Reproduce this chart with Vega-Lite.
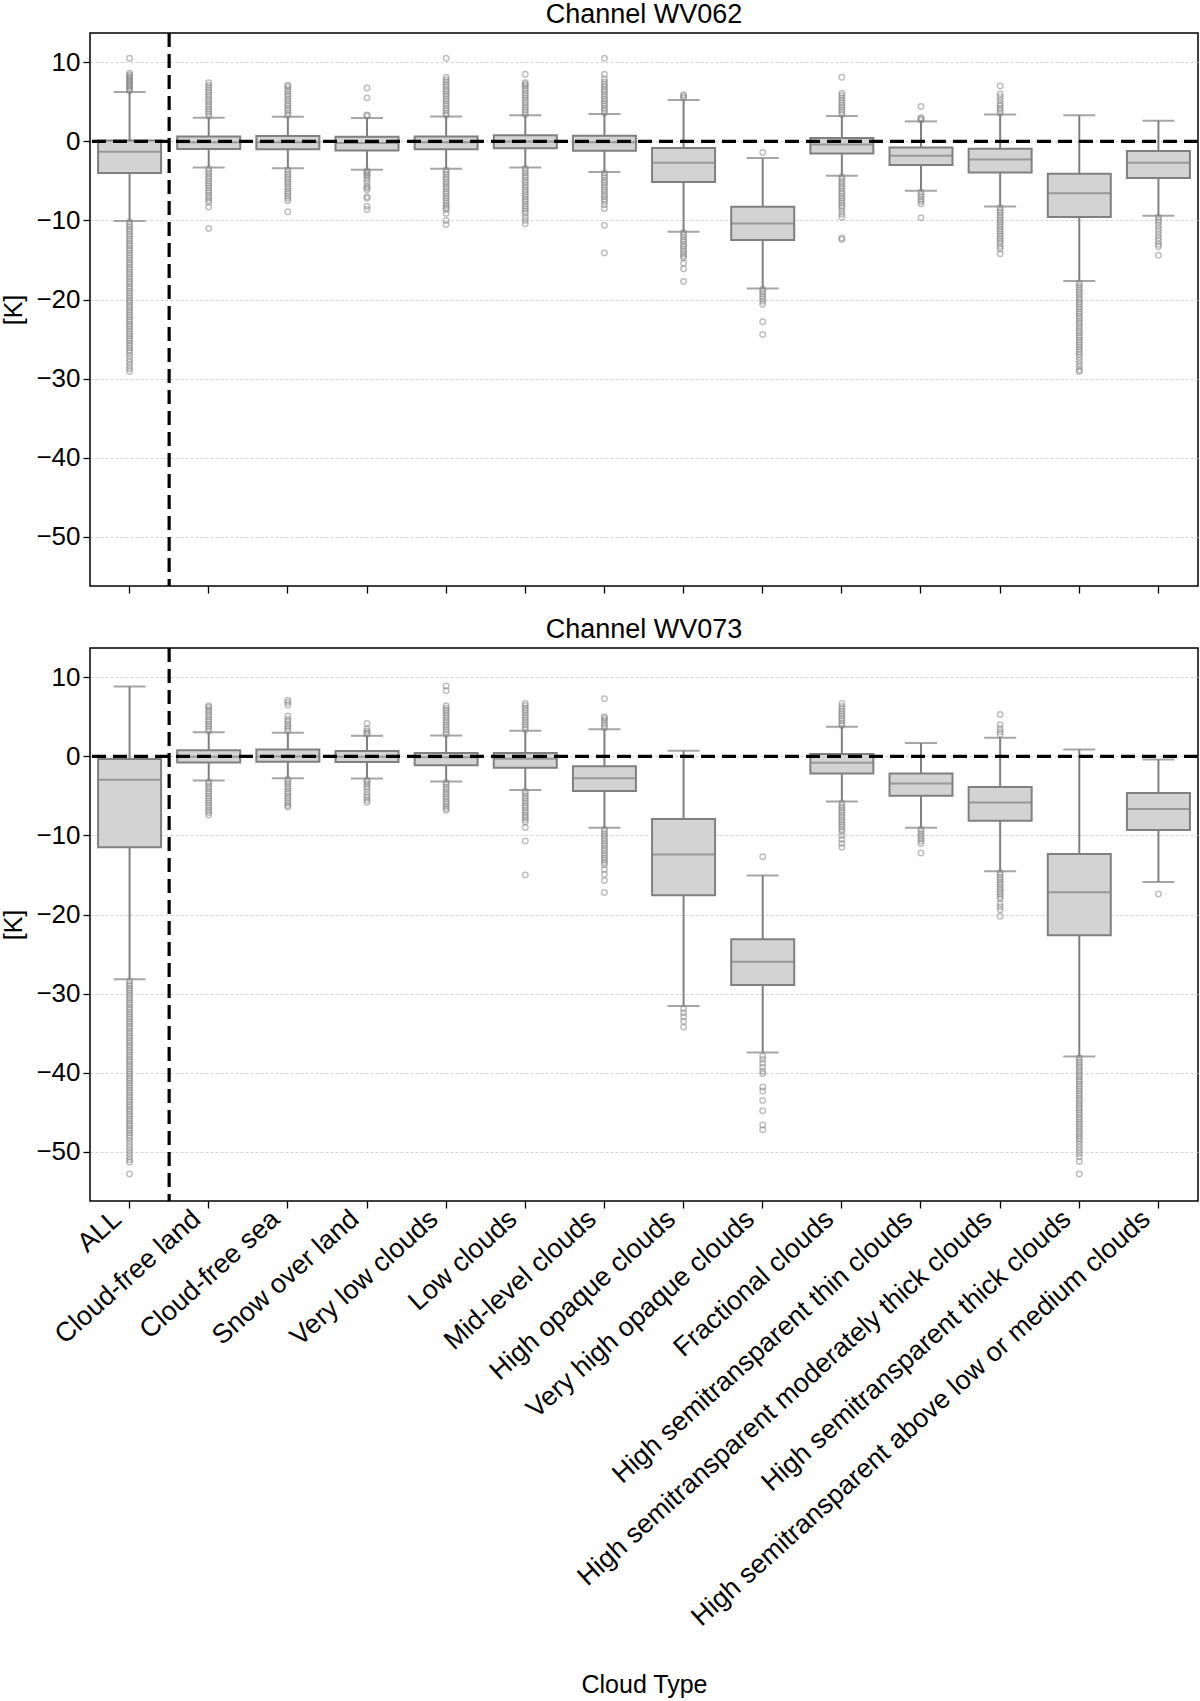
{
  "$schema": "https://vega.github.io/schema/vega-lite/v6.json",
  "background": "white",
  "padding": {"left": 1, "top": 0, "right": 2, "bottom": 0},
  "config": {
    "font": "Liberation Sans",
    "view": {"stroke": "black", "strokeWidth": 1.5},
    "axis": {
      "labelFont": "Liberation Sans", "titleFont": "Liberation Sans",
      "labelFontSize": 26, "titleFontSize": 25, "titleFontWeight": "normal",
      "labelColor": "black", "titleColor": "black",
      "tickColor": "black", "tickSize": 7, "tickWidth": 1.3,
      "domain": false, "labelPadding": 3
    },
    "title": {"font": "Liberation Sans", "fontSize": 27, "fontWeight": "normal", "color": "black", "offset": 2}
  },
  "datasets": {
    "boxes": [
      {"panel": "WV062", "type": "ALL", "lo": -10.07, "q1": -4.0, "med": -1.3, "q3": 0.1, "hi": 6.24},
      {"panel": "WV062", "type": "Cloud-free land", "lo": -3.3, "q1": -0.97, "med": -0.1, "q3": 0.63, "hi": 3.0},
      {"panel": "WV062", "type": "Cloud-free sea", "lo": -3.4, "q1": -1.0, "med": -0.1, "q3": 0.67, "hi": 3.1},
      {"panel": "WV062", "type": "Snow over land", "lo": -3.58, "q1": -1.14, "med": -0.2, "q3": 0.59, "hi": 2.95},
      {"panel": "WV062", "type": "Very low clouds", "lo": -3.46, "q1": -1.0, "med": -0.1, "q3": 0.63, "hi": 3.16},
      {"panel": "WV062", "type": "Low clouds", "lo": -3.29, "q1": -0.88, "med": 0.0, "q3": 0.76, "hi": 3.29},
      {"panel": "WV062", "type": "Mid-level clouds", "lo": -3.88, "q1": -1.18, "med": -0.1, "q3": 0.72, "hi": 3.46},
      {"panel": "WV062", "type": "High opaque clouds", "lo": -11.42, "q1": -5.14, "med": -2.7, "q3": -0.84, "hi": 5.23},
      {"panel": "WV062", "type": "Very high opaque clouds", "lo": -18.58, "q1": -12.47, "med": -10.37, "q3": -8.26, "hi": -2.1},
      {"panel": "WV062", "type": "Fractional clouds", "lo": -4.34, "q1": -1.52, "med": -0.4, "q3": 0.42, "hi": 3.2},
      {"panel": "WV062", "type": "High semitransparent thin clouds", "lo": -6.24, "q1": -3.0, "med": -1.81, "q3": -0.76, "hi": 2.53},
      {"panel": "WV062", "type": "High semitransparent moderately thick clouds", "lo": -8.22, "q1": -3.92, "med": -2.28, "q3": -0.93, "hi": 3.41},
      {"panel": "WV062", "type": "High semitransparent thick clouds", "lo": -17.66, "q1": -9.57, "med": -6.57, "q3": -4.09, "hi": 3.29},
      {"panel": "WV062", "type": "High semitransparent above low or medium clouds", "lo": -9.4, "q1": -4.64, "med": -2.7, "q3": -1.22, "hi": 2.61},
      {"panel": "WV073", "type": "ALL", "lo": -28.17, "q1": -11.48, "med": -2.94, "q3": -0.34, "hi": 8.83},
      {"panel": "WV073", "type": "Cloud-free land", "lo": -3.04, "q1": -0.77, "med": -0.05, "q3": 0.77, "hi": 3.04},
      {"panel": "WV073", "type": "Cloud-free sea", "lo": -2.75, "q1": -0.68, "med": 0.0, "q3": 0.87, "hi": 2.99},
      {"panel": "WV073", "type": "Snow over land", "lo": -2.8, "q1": -0.72, "med": -0.05, "q3": 0.68, "hi": 2.6},
      {"panel": "WV073", "type": "Very low clouds", "lo": -3.18, "q1": -1.11, "med": -0.1, "q3": 0.43, "hi": 2.65},
      {"panel": "WV073", "type": "Low clouds", "lo": -4.25, "q1": -1.45, "med": -0.29, "q3": 0.43, "hi": 3.23},
      {"panel": "WV073", "type": "Mid-level clouds", "lo": -9.02, "q1": -4.39, "med": -2.75, "q3": -1.25, "hi": 3.42},
      {"panel": "WV073", "type": "High opaque clouds", "lo": -31.55, "q1": -17.56, "med": -12.4, "q3": -7.91, "hi": 0.72},
      {"panel": "WV073", "type": "Very high opaque clouds", "lo": -37.43, "q1": -28.9, "med": -25.95, "q3": -23.1, "hi": -15.05},
      {"panel": "WV073", "type": "Fractional clouds", "lo": -5.69, "q1": -2.17, "med": -0.82, "q3": 0.29, "hi": 3.76},
      {"panel": "WV073", "type": "High semitransparent thin clouds", "lo": -9.02, "q1": -4.97, "med": -3.43, "q3": -2.17, "hi": 1.69},
      {"panel": "WV073", "type": "High semitransparent moderately thick clouds", "lo": -14.52, "q1": -8.15, "med": -5.84, "q3": -3.86, "hi": 2.36},
      {"panel": "WV073", "type": "High semitransparent thick clouds", "lo": -37.92, "q1": -22.62, "med": -17.17, "q3": -12.35, "hi": 0.87},
      {"panel": "WV073", "type": "High semitransparent above low or medium clouds", "lo": -15.87, "q1": -9.31, "med": -6.66, "q3": -4.63, "hi": -0.39}
    ],
    "fliers": [
      {"panel": "WV062", "type": "ALL", "value": 6.4},
      {"panel": "WV062", "type": "ALL", "value": 6.6},
      {"panel": "WV062", "type": "ALL", "value": 6.8},
      {"panel": "WV062", "type": "ALL", "value": 7.0},
      {"panel": "WV062", "type": "ALL", "value": 7.2},
      {"panel": "WV062", "type": "ALL", "value": 7.4},
      {"panel": "WV062", "type": "ALL", "value": 7.6},
      {"panel": "WV062", "type": "ALL", "value": 7.8},
      {"panel": "WV062", "type": "ALL", "value": 8.0},
      {"panel": "WV062", "type": "ALL", "value": 8.2},
      {"panel": "WV062", "type": "ALL", "value": 8.4},
      {"panel": "WV062", "type": "ALL", "value": 8.6},
      {"panel": "WV062", "type": "ALL", "value": 10.5},
      {"panel": "WV062", "type": "ALL", "value": -10.2},
      {"panel": "WV062", "type": "ALL", "value": -10.5},
      {"panel": "WV062", "type": "ALL", "value": -10.8},
      {"panel": "WV062", "type": "ALL", "value": -11.1},
      {"panel": "WV062", "type": "ALL", "value": -11.4},
      {"panel": "WV062", "type": "ALL", "value": -11.7},
      {"panel": "WV062", "type": "ALL", "value": -12.0},
      {"panel": "WV062", "type": "ALL", "value": -12.3},
      {"panel": "WV062", "type": "ALL", "value": -12.6},
      {"panel": "WV062", "type": "ALL", "value": -12.9},
      {"panel": "WV062", "type": "ALL", "value": -13.2},
      {"panel": "WV062", "type": "ALL", "value": -13.5},
      {"panel": "WV062", "type": "ALL", "value": -13.8},
      {"panel": "WV062", "type": "ALL", "value": -14.1},
      {"panel": "WV062", "type": "ALL", "value": -14.4},
      {"panel": "WV062", "type": "ALL", "value": -14.7},
      {"panel": "WV062", "type": "ALL", "value": -15.0},
      {"panel": "WV062", "type": "ALL", "value": -15.3},
      {"panel": "WV062", "type": "ALL", "value": -15.6},
      {"panel": "WV062", "type": "ALL", "value": -15.9},
      {"panel": "WV062", "type": "ALL", "value": -16.2},
      {"panel": "WV062", "type": "ALL", "value": -16.5},
      {"panel": "WV062", "type": "ALL", "value": -16.8},
      {"panel": "WV062", "type": "ALL", "value": -17.1},
      {"panel": "WV062", "type": "ALL", "value": -17.4},
      {"panel": "WV062", "type": "ALL", "value": -17.7},
      {"panel": "WV062", "type": "ALL", "value": -18.0},
      {"panel": "WV062", "type": "ALL", "value": -18.3},
      {"panel": "WV062", "type": "ALL", "value": -18.6},
      {"panel": "WV062", "type": "ALL", "value": -18.9},
      {"panel": "WV062", "type": "ALL", "value": -19.2},
      {"panel": "WV062", "type": "ALL", "value": -19.5},
      {"panel": "WV062", "type": "ALL", "value": -19.8},
      {"panel": "WV062", "type": "ALL", "value": -20.1},
      {"panel": "WV062", "type": "ALL", "value": -20.4},
      {"panel": "WV062", "type": "ALL", "value": -20.7},
      {"panel": "WV062", "type": "ALL", "value": -21.0},
      {"panel": "WV062", "type": "ALL", "value": -21.3},
      {"panel": "WV062", "type": "ALL", "value": -21.6},
      {"panel": "WV062", "type": "ALL", "value": -21.9},
      {"panel": "WV062", "type": "ALL", "value": -22.2},
      {"panel": "WV062", "type": "ALL", "value": -22.5},
      {"panel": "WV062", "type": "ALL", "value": -22.8},
      {"panel": "WV062", "type": "ALL", "value": -23.1},
      {"panel": "WV062", "type": "ALL", "value": -23.4},
      {"panel": "WV062", "type": "ALL", "value": -23.7},
      {"panel": "WV062", "type": "ALL", "value": -24.0},
      {"panel": "WV062", "type": "ALL", "value": -24.3},
      {"panel": "WV062", "type": "ALL", "value": -24.6},
      {"panel": "WV062", "type": "ALL", "value": -24.9},
      {"panel": "WV062", "type": "ALL", "value": -25.2},
      {"panel": "WV062", "type": "ALL", "value": -25.5},
      {"panel": "WV062", "type": "ALL", "value": -25.8},
      {"panel": "WV062", "type": "ALL", "value": -26.1},
      {"panel": "WV062", "type": "ALL", "value": -26.4},
      {"panel": "WV062", "type": "ALL", "value": -26.7},
      {"panel": "WV062", "type": "ALL", "value": -27.1},
      {"panel": "WV062", "type": "ALL", "value": -27.5},
      {"panel": "WV062", "type": "ALL", "value": -27.9},
      {"panel": "WV062", "type": "ALL", "value": -28.3},
      {"panel": "WV062", "type": "ALL", "value": -28.7},
      {"panel": "WV062", "type": "ALL", "value": -29.1},
      {"panel": "WV062", "type": "Cloud-free land", "value": 3.2},
      {"panel": "WV062", "type": "Cloud-free land", "value": 3.5},
      {"panel": "WV062", "type": "Cloud-free land", "value": 3.8},
      {"panel": "WV062", "type": "Cloud-free land", "value": 4.1},
      {"panel": "WV062", "type": "Cloud-free land", "value": 4.4},
      {"panel": "WV062", "type": "Cloud-free land", "value": 4.7},
      {"panel": "WV062", "type": "Cloud-free land", "value": 5.0},
      {"panel": "WV062", "type": "Cloud-free land", "value": 5.3},
      {"panel": "WV062", "type": "Cloud-free land", "value": 5.6},
      {"panel": "WV062", "type": "Cloud-free land", "value": 5.9},
      {"panel": "WV062", "type": "Cloud-free land", "value": 6.2},
      {"panel": "WV062", "type": "Cloud-free land", "value": 6.5},
      {"panel": "WV062", "type": "Cloud-free land", "value": 6.8},
      {"panel": "WV062", "type": "Cloud-free land", "value": 7.1},
      {"panel": "WV062", "type": "Cloud-free land", "value": 7.4},
      {"panel": "WV062", "type": "Cloud-free land", "value": -3.5},
      {"panel": "WV062", "type": "Cloud-free land", "value": -3.8},
      {"panel": "WV062", "type": "Cloud-free land", "value": -4.1},
      {"panel": "WV062", "type": "Cloud-free land", "value": -4.4},
      {"panel": "WV062", "type": "Cloud-free land", "value": -4.7},
      {"panel": "WV062", "type": "Cloud-free land", "value": -5.0},
      {"panel": "WV062", "type": "Cloud-free land", "value": -5.3},
      {"panel": "WV062", "type": "Cloud-free land", "value": -5.6},
      {"panel": "WV062", "type": "Cloud-free land", "value": -5.9},
      {"panel": "WV062", "type": "Cloud-free land", "value": -6.2},
      {"panel": "WV062", "type": "Cloud-free land", "value": -6.5},
      {"panel": "WV062", "type": "Cloud-free land", "value": -6.8},
      {"panel": "WV062", "type": "Cloud-free land", "value": -7.1},
      {"panel": "WV062", "type": "Cloud-free land", "value": -7.4},
      {"panel": "WV062", "type": "Cloud-free land", "value": -7.7},
      {"panel": "WV062", "type": "Cloud-free land", "value": -8.3},
      {"panel": "WV062", "type": "Cloud-free land", "value": -11.0},
      {"panel": "WV062", "type": "Cloud-free sea", "value": 3.3},
      {"panel": "WV062", "type": "Cloud-free sea", "value": 3.6},
      {"panel": "WV062", "type": "Cloud-free sea", "value": 3.9},
      {"panel": "WV062", "type": "Cloud-free sea", "value": 4.2},
      {"panel": "WV062", "type": "Cloud-free sea", "value": 4.5},
      {"panel": "WV062", "type": "Cloud-free sea", "value": 4.8},
      {"panel": "WV062", "type": "Cloud-free sea", "value": 5.1},
      {"panel": "WV062", "type": "Cloud-free sea", "value": 5.4},
      {"panel": "WV062", "type": "Cloud-free sea", "value": 5.7},
      {"panel": "WV062", "type": "Cloud-free sea", "value": 6.0},
      {"panel": "WV062", "type": "Cloud-free sea", "value": 6.3},
      {"panel": "WV062", "type": "Cloud-free sea", "value": 6.6},
      {"panel": "WV062", "type": "Cloud-free sea", "value": 6.9},
      {"panel": "WV062", "type": "Cloud-free sea", "value": 7.1},
      {"panel": "WV062", "type": "Cloud-free sea", "value": -3.6},
      {"panel": "WV062", "type": "Cloud-free sea", "value": -3.9},
      {"panel": "WV062", "type": "Cloud-free sea", "value": -4.2},
      {"panel": "WV062", "type": "Cloud-free sea", "value": -4.5},
      {"panel": "WV062", "type": "Cloud-free sea", "value": -4.8},
      {"panel": "WV062", "type": "Cloud-free sea", "value": -5.1},
      {"panel": "WV062", "type": "Cloud-free sea", "value": -5.4},
      {"panel": "WV062", "type": "Cloud-free sea", "value": -5.7},
      {"panel": "WV062", "type": "Cloud-free sea", "value": -6.0},
      {"panel": "WV062", "type": "Cloud-free sea", "value": -6.3},
      {"panel": "WV062", "type": "Cloud-free sea", "value": -6.6},
      {"panel": "WV062", "type": "Cloud-free sea", "value": -6.9},
      {"panel": "WV062", "type": "Cloud-free sea", "value": -7.2},
      {"panel": "WV062", "type": "Cloud-free sea", "value": -7.5},
      {"panel": "WV062", "type": "Cloud-free sea", "value": -8.9},
      {"panel": "WV062", "type": "Snow over land", "value": 3.2},
      {"panel": "WV062", "type": "Snow over land", "value": 3.35},
      {"panel": "WV062", "type": "Snow over land", "value": 5.5},
      {"panel": "WV062", "type": "Snow over land", "value": 6.75},
      {"panel": "WV062", "type": "Snow over land", "value": -3.7},
      {"panel": "WV062", "type": "Snow over land", "value": -3.9},
      {"panel": "WV062", "type": "Snow over land", "value": -4.1},
      {"panel": "WV062", "type": "Snow over land", "value": -4.3},
      {"panel": "WV062", "type": "Snow over land", "value": -4.6},
      {"panel": "WV062", "type": "Snow over land", "value": -4.9},
      {"panel": "WV062", "type": "Snow over land", "value": -5.3},
      {"panel": "WV062", "type": "Snow over land", "value": -5.7},
      {"panel": "WV062", "type": "Snow over land", "value": -5.9},
      {"panel": "WV062", "type": "Snow over land", "value": -6.1},
      {"panel": "WV062", "type": "Snow over land", "value": -7.0},
      {"panel": "WV062", "type": "Snow over land", "value": -7.2},
      {"panel": "WV062", "type": "Snow over land", "value": -8.2},
      {"panel": "WV062", "type": "Snow over land", "value": -8.6},
      {"panel": "WV062", "type": "Very low clouds", "value": 3.3},
      {"panel": "WV062", "type": "Very low clouds", "value": 3.6},
      {"panel": "WV062", "type": "Very low clouds", "value": 3.9},
      {"panel": "WV062", "type": "Very low clouds", "value": 4.2},
      {"panel": "WV062", "type": "Very low clouds", "value": 4.5},
      {"panel": "WV062", "type": "Very low clouds", "value": 4.8},
      {"panel": "WV062", "type": "Very low clouds", "value": 5.1},
      {"panel": "WV062", "type": "Very low clouds", "value": 5.4},
      {"panel": "WV062", "type": "Very low clouds", "value": 5.7},
      {"panel": "WV062", "type": "Very low clouds", "value": 6.0},
      {"panel": "WV062", "type": "Very low clouds", "value": 6.3},
      {"panel": "WV062", "type": "Very low clouds", "value": 6.6},
      {"panel": "WV062", "type": "Very low clouds", "value": 6.9},
      {"panel": "WV062", "type": "Very low clouds", "value": 7.2},
      {"panel": "WV062", "type": "Very low clouds", "value": 7.5},
      {"panel": "WV062", "type": "Very low clouds", "value": 7.8},
      {"panel": "WV062", "type": "Very low clouds", "value": 8.1},
      {"panel": "WV062", "type": "Very low clouds", "value": 10.5},
      {"panel": "WV062", "type": "Very low clouds", "value": -3.6},
      {"panel": "WV062", "type": "Very low clouds", "value": -3.9},
      {"panel": "WV062", "type": "Very low clouds", "value": -4.2},
      {"panel": "WV062", "type": "Very low clouds", "value": -4.5},
      {"panel": "WV062", "type": "Very low clouds", "value": -4.8},
      {"panel": "WV062", "type": "Very low clouds", "value": -5.1},
      {"panel": "WV062", "type": "Very low clouds", "value": -5.4},
      {"panel": "WV062", "type": "Very low clouds", "value": -5.7},
      {"panel": "WV062", "type": "Very low clouds", "value": -6.0},
      {"panel": "WV062", "type": "Very low clouds", "value": -6.3},
      {"panel": "WV062", "type": "Very low clouds", "value": -6.6},
      {"panel": "WV062", "type": "Very low clouds", "value": -6.9},
      {"panel": "WV062", "type": "Very low clouds", "value": -7.2},
      {"panel": "WV062", "type": "Very low clouds", "value": -7.5},
      {"panel": "WV062", "type": "Very low clouds", "value": -7.8},
      {"panel": "WV062", "type": "Very low clouds", "value": -8.1},
      {"panel": "WV062", "type": "Very low clouds", "value": -8.4},
      {"panel": "WV062", "type": "Very low clouds", "value": -8.6},
      {"panel": "WV062", "type": "Very low clouds", "value": -9.1},
      {"panel": "WV062", "type": "Very low clouds", "value": -10.0},
      {"panel": "WV062", "type": "Very low clouds", "value": -10.5},
      {"panel": "WV062", "type": "Low clouds", "value": 3.4},
      {"panel": "WV062", "type": "Low clouds", "value": 3.7},
      {"panel": "WV062", "type": "Low clouds", "value": 4.0},
      {"panel": "WV062", "type": "Low clouds", "value": 4.3},
      {"panel": "WV062", "type": "Low clouds", "value": 4.6},
      {"panel": "WV062", "type": "Low clouds", "value": 4.9},
      {"panel": "WV062", "type": "Low clouds", "value": 5.2},
      {"panel": "WV062", "type": "Low clouds", "value": 5.5},
      {"panel": "WV062", "type": "Low clouds", "value": 5.8},
      {"panel": "WV062", "type": "Low clouds", "value": 6.1},
      {"panel": "WV062", "type": "Low clouds", "value": 6.4},
      {"panel": "WV062", "type": "Low clouds", "value": 6.7},
      {"panel": "WV062", "type": "Low clouds", "value": 7.0},
      {"panel": "WV062", "type": "Low clouds", "value": 7.2},
      {"panel": "WV062", "type": "Low clouds", "value": 7.4},
      {"panel": "WV062", "type": "Low clouds", "value": 8.5},
      {"panel": "WV062", "type": "Low clouds", "value": -3.4},
      {"panel": "WV062", "type": "Low clouds", "value": -3.7},
      {"panel": "WV062", "type": "Low clouds", "value": -4.0},
      {"panel": "WV062", "type": "Low clouds", "value": -4.3},
      {"panel": "WV062", "type": "Low clouds", "value": -4.6},
      {"panel": "WV062", "type": "Low clouds", "value": -4.9},
      {"panel": "WV062", "type": "Low clouds", "value": -5.2},
      {"panel": "WV062", "type": "Low clouds", "value": -5.5},
      {"panel": "WV062", "type": "Low clouds", "value": -5.8},
      {"panel": "WV062", "type": "Low clouds", "value": -6.1},
      {"panel": "WV062", "type": "Low clouds", "value": -6.4},
      {"panel": "WV062", "type": "Low clouds", "value": -6.7},
      {"panel": "WV062", "type": "Low clouds", "value": -7.0},
      {"panel": "WV062", "type": "Low clouds", "value": -7.3},
      {"panel": "WV062", "type": "Low clouds", "value": -7.6},
      {"panel": "WV062", "type": "Low clouds", "value": -7.9},
      {"panel": "WV062", "type": "Low clouds", "value": -8.2},
      {"panel": "WV062", "type": "Low clouds", "value": -8.5},
      {"panel": "WV062", "type": "Low clouds", "value": -8.8},
      {"panel": "WV062", "type": "Low clouds", "value": -9.1},
      {"panel": "WV062", "type": "Low clouds", "value": -9.6},
      {"panel": "WV062", "type": "Low clouds", "value": -10.0},
      {"panel": "WV062", "type": "Low clouds", "value": -10.4},
      {"panel": "WV062", "type": "Mid-level clouds", "value": 3.6},
      {"panel": "WV062", "type": "Mid-level clouds", "value": 3.9},
      {"panel": "WV062", "type": "Mid-level clouds", "value": 4.2},
      {"panel": "WV062", "type": "Mid-level clouds", "value": 4.5},
      {"panel": "WV062", "type": "Mid-level clouds", "value": 4.8},
      {"panel": "WV062", "type": "Mid-level clouds", "value": 5.1},
      {"panel": "WV062", "type": "Mid-level clouds", "value": 5.4},
      {"panel": "WV062", "type": "Mid-level clouds", "value": 5.7},
      {"panel": "WV062", "type": "Mid-level clouds", "value": 6.0},
      {"panel": "WV062", "type": "Mid-level clouds", "value": 6.3},
      {"panel": "WV062", "type": "Mid-level clouds", "value": 6.6},
      {"panel": "WV062", "type": "Mid-level clouds", "value": 6.9},
      {"panel": "WV062", "type": "Mid-level clouds", "value": 7.2},
      {"panel": "WV062", "type": "Mid-level clouds", "value": 7.5},
      {"panel": "WV062", "type": "Mid-level clouds", "value": 7.9},
      {"panel": "WV062", "type": "Mid-level clouds", "value": 8.5},
      {"panel": "WV062", "type": "Mid-level clouds", "value": 10.5},
      {"panel": "WV062", "type": "Mid-level clouds", "value": -4.0},
      {"panel": "WV062", "type": "Mid-level clouds", "value": -4.3},
      {"panel": "WV062", "type": "Mid-level clouds", "value": -4.6},
      {"panel": "WV062", "type": "Mid-level clouds", "value": -4.9},
      {"panel": "WV062", "type": "Mid-level clouds", "value": -5.2},
      {"panel": "WV062", "type": "Mid-level clouds", "value": -5.5},
      {"panel": "WV062", "type": "Mid-level clouds", "value": -5.8},
      {"panel": "WV062", "type": "Mid-level clouds", "value": -6.1},
      {"panel": "WV062", "type": "Mid-level clouds", "value": -6.4},
      {"panel": "WV062", "type": "Mid-level clouds", "value": -6.7},
      {"panel": "WV062", "type": "Mid-level clouds", "value": -7.0},
      {"panel": "WV062", "type": "Mid-level clouds", "value": -7.3},
      {"panel": "WV062", "type": "Mid-level clouds", "value": -7.6},
      {"panel": "WV062", "type": "Mid-level clouds", "value": -8.0},
      {"panel": "WV062", "type": "Mid-level clouds", "value": -8.5},
      {"panel": "WV062", "type": "Mid-level clouds", "value": -10.6},
      {"panel": "WV062", "type": "Mid-level clouds", "value": -14.1},
      {"panel": "WV062", "type": "High opaque clouds", "value": 5.5},
      {"panel": "WV062", "type": "High opaque clouds", "value": 5.7},
      {"panel": "WV062", "type": "High opaque clouds", "value": 5.9},
      {"panel": "WV062", "type": "High opaque clouds", "value": -11.5},
      {"panel": "WV062", "type": "High opaque clouds", "value": -11.8},
      {"panel": "WV062", "type": "High opaque clouds", "value": -12.1},
      {"panel": "WV062", "type": "High opaque clouds", "value": -12.4},
      {"panel": "WV062", "type": "High opaque clouds", "value": -12.7},
      {"panel": "WV062", "type": "High opaque clouds", "value": -13.0},
      {"panel": "WV062", "type": "High opaque clouds", "value": -13.3},
      {"panel": "WV062", "type": "High opaque clouds", "value": -13.6},
      {"panel": "WV062", "type": "High opaque clouds", "value": -13.9},
      {"panel": "WV062", "type": "High opaque clouds", "value": -14.2},
      {"panel": "WV062", "type": "High opaque clouds", "value": -14.5},
      {"panel": "WV062", "type": "High opaque clouds", "value": -14.7},
      {"panel": "WV062", "type": "High opaque clouds", "value": -15.4},
      {"panel": "WV062", "type": "High opaque clouds", "value": -16.1},
      {"panel": "WV062", "type": "High opaque clouds", "value": -17.7},
      {"panel": "WV062", "type": "Very high opaque clouds", "value": -1.4},
      {"panel": "WV062", "type": "Very high opaque clouds", "value": -18.7},
      {"panel": "WV062", "type": "Very high opaque clouds", "value": -19.0},
      {"panel": "WV062", "type": "Very high opaque clouds", "value": -19.3},
      {"panel": "WV062", "type": "Very high opaque clouds", "value": -19.6},
      {"panel": "WV062", "type": "Very high opaque clouds", "value": -19.9},
      {"panel": "WV062", "type": "Very high opaque clouds", "value": -20.2},
      {"panel": "WV062", "type": "Very high opaque clouds", "value": -20.6},
      {"panel": "WV062", "type": "Very high opaque clouds", "value": -22.8},
      {"panel": "WV062", "type": "Very high opaque clouds", "value": -24.4},
      {"panel": "WV062", "type": "Fractional clouds", "value": 3.4},
      {"panel": "WV062", "type": "Fractional clouds", "value": 3.7},
      {"panel": "WV062", "type": "Fractional clouds", "value": 4.0},
      {"panel": "WV062", "type": "Fractional clouds", "value": 4.3},
      {"panel": "WV062", "type": "Fractional clouds", "value": 4.6},
      {"panel": "WV062", "type": "Fractional clouds", "value": 4.9},
      {"panel": "WV062", "type": "Fractional clouds", "value": 5.2},
      {"panel": "WV062", "type": "Fractional clouds", "value": 5.5},
      {"panel": "WV062", "type": "Fractional clouds", "value": 5.8},
      {"panel": "WV062", "type": "Fractional clouds", "value": 6.1},
      {"panel": "WV062", "type": "Fractional clouds", "value": 8.1},
      {"panel": "WV062", "type": "Fractional clouds", "value": -4.5},
      {"panel": "WV062", "type": "Fractional clouds", "value": -4.8},
      {"panel": "WV062", "type": "Fractional clouds", "value": -5.1},
      {"panel": "WV062", "type": "Fractional clouds", "value": -5.4},
      {"panel": "WV062", "type": "Fractional clouds", "value": -5.7},
      {"panel": "WV062", "type": "Fractional clouds", "value": -6.0},
      {"panel": "WV062", "type": "Fractional clouds", "value": -6.3},
      {"panel": "WV062", "type": "Fractional clouds", "value": -6.6},
      {"panel": "WV062", "type": "Fractional clouds", "value": -6.9},
      {"panel": "WV062", "type": "Fractional clouds", "value": -7.2},
      {"panel": "WV062", "type": "Fractional clouds", "value": -7.5},
      {"panel": "WV062", "type": "Fractional clouds", "value": -7.8},
      {"panel": "WV062", "type": "Fractional clouds", "value": -8.1},
      {"panel": "WV062", "type": "Fractional clouds", "value": -8.4},
      {"panel": "WV062", "type": "Fractional clouds", "value": -8.8},
      {"panel": "WV062", "type": "Fractional clouds", "value": -9.2},
      {"panel": "WV062", "type": "Fractional clouds", "value": -9.6},
      {"panel": "WV062", "type": "Fractional clouds", "value": -12.2},
      {"panel": "WV062", "type": "Fractional clouds", "value": -12.4},
      {"panel": "WV062", "type": "High semitransparent thin clouds", "value": 2.7},
      {"panel": "WV062", "type": "High semitransparent thin clouds", "value": 2.85},
      {"panel": "WV062", "type": "High semitransparent thin clouds", "value": 3.0},
      {"panel": "WV062", "type": "High semitransparent thin clouds", "value": 4.4},
      {"panel": "WV062", "type": "High semitransparent thin clouds", "value": -6.4},
      {"panel": "WV062", "type": "High semitransparent thin clouds", "value": -6.7},
      {"panel": "WV062", "type": "High semitransparent thin clouds", "value": -7.0},
      {"panel": "WV062", "type": "High semitransparent thin clouds", "value": -7.3},
      {"panel": "WV062", "type": "High semitransparent thin clouds", "value": -7.6},
      {"panel": "WV062", "type": "High semitransparent thin clouds", "value": -7.9},
      {"panel": "WV062", "type": "High semitransparent thin clouds", "value": -9.65},
      {"panel": "WV062", "type": "High semitransparent moderately thick clouds", "value": 3.6},
      {"panel": "WV062", "type": "High semitransparent moderately thick clouds", "value": 3.9},
      {"panel": "WV062", "type": "High semitransparent moderately thick clouds", "value": 4.2},
      {"panel": "WV062", "type": "High semitransparent moderately thick clouds", "value": 4.5},
      {"panel": "WV062", "type": "High semitransparent moderately thick clouds", "value": 4.8},
      {"panel": "WV062", "type": "High semitransparent moderately thick clouds", "value": 5.2},
      {"panel": "WV062", "type": "High semitransparent moderately thick clouds", "value": 5.6},
      {"panel": "WV062", "type": "High semitransparent moderately thick clouds", "value": 6.0},
      {"panel": "WV062", "type": "High semitransparent moderately thick clouds", "value": 7.0},
      {"panel": "WV062", "type": "High semitransparent moderately thick clouds", "value": -8.4},
      {"panel": "WV062", "type": "High semitransparent moderately thick clouds", "value": -8.7},
      {"panel": "WV062", "type": "High semitransparent moderately thick clouds", "value": -9.0},
      {"panel": "WV062", "type": "High semitransparent moderately thick clouds", "value": -9.3},
      {"panel": "WV062", "type": "High semitransparent moderately thick clouds", "value": -9.6},
      {"panel": "WV062", "type": "High semitransparent moderately thick clouds", "value": -9.9},
      {"panel": "WV062", "type": "High semitransparent moderately thick clouds", "value": -10.2},
      {"panel": "WV062", "type": "High semitransparent moderately thick clouds", "value": -10.5},
      {"panel": "WV062", "type": "High semitransparent moderately thick clouds", "value": -10.8},
      {"panel": "WV062", "type": "High semitransparent moderately thick clouds", "value": -11.1},
      {"panel": "WV062", "type": "High semitransparent moderately thick clouds", "value": -11.4},
      {"panel": "WV062", "type": "High semitransparent moderately thick clouds", "value": -11.7},
      {"panel": "WV062", "type": "High semitransparent moderately thick clouds", "value": -12.0},
      {"panel": "WV062", "type": "High semitransparent moderately thick clouds", "value": -12.3},
      {"panel": "WV062", "type": "High semitransparent moderately thick clouds", "value": -12.6},
      {"panel": "WV062", "type": "High semitransparent moderately thick clouds", "value": -12.9},
      {"panel": "WV062", "type": "High semitransparent moderately thick clouds", "value": -13.3},
      {"panel": "WV062", "type": "High semitransparent moderately thick clouds", "value": -13.6},
      {"panel": "WV062", "type": "High semitransparent moderately thick clouds", "value": -14.2},
      {"panel": "WV062", "type": "High semitransparent thick clouds", "value": -17.9},
      {"panel": "WV062", "type": "High semitransparent thick clouds", "value": -18.2},
      {"panel": "WV062", "type": "High semitransparent thick clouds", "value": -18.5},
      {"panel": "WV062", "type": "High semitransparent thick clouds", "value": -18.8},
      {"panel": "WV062", "type": "High semitransparent thick clouds", "value": -19.1},
      {"panel": "WV062", "type": "High semitransparent thick clouds", "value": -19.4},
      {"panel": "WV062", "type": "High semitransparent thick clouds", "value": -19.7},
      {"panel": "WV062", "type": "High semitransparent thick clouds", "value": -20.0},
      {"panel": "WV062", "type": "High semitransparent thick clouds", "value": -20.3},
      {"panel": "WV062", "type": "High semitransparent thick clouds", "value": -20.6},
      {"panel": "WV062", "type": "High semitransparent thick clouds", "value": -20.9},
      {"panel": "WV062", "type": "High semitransparent thick clouds", "value": -21.2},
      {"panel": "WV062", "type": "High semitransparent thick clouds", "value": -21.5},
      {"panel": "WV062", "type": "High semitransparent thick clouds", "value": -21.8},
      {"panel": "WV062", "type": "High semitransparent thick clouds", "value": -22.1},
      {"panel": "WV062", "type": "High semitransparent thick clouds", "value": -22.4},
      {"panel": "WV062", "type": "High semitransparent thick clouds", "value": -22.7},
      {"panel": "WV062", "type": "High semitransparent thick clouds", "value": -23.0},
      {"panel": "WV062", "type": "High semitransparent thick clouds", "value": -23.3},
      {"panel": "WV062", "type": "High semitransparent thick clouds", "value": -23.6},
      {"panel": "WV062", "type": "High semitransparent thick clouds", "value": -23.9},
      {"panel": "WV062", "type": "High semitransparent thick clouds", "value": -24.2},
      {"panel": "WV062", "type": "High semitransparent thick clouds", "value": -24.5},
      {"panel": "WV062", "type": "High semitransparent thick clouds", "value": -24.8},
      {"panel": "WV062", "type": "High semitransparent thick clouds", "value": -25.1},
      {"panel": "WV062", "type": "High semitransparent thick clouds", "value": -25.4},
      {"panel": "WV062", "type": "High semitransparent thick clouds", "value": -25.7},
      {"panel": "WV062", "type": "High semitransparent thick clouds", "value": -26.0},
      {"panel": "WV062", "type": "High semitransparent thick clouds", "value": -26.3},
      {"panel": "WV062", "type": "High semitransparent thick clouds", "value": -26.6},
      {"panel": "WV062", "type": "High semitransparent thick clouds", "value": -26.9},
      {"panel": "WV062", "type": "High semitransparent thick clouds", "value": -27.3},
      {"panel": "WV062", "type": "High semitransparent thick clouds", "value": -27.7},
      {"panel": "WV062", "type": "High semitransparent thick clouds", "value": -28.1},
      {"panel": "WV062", "type": "High semitransparent thick clouds", "value": -28.5},
      {"panel": "WV062", "type": "High semitransparent thick clouds", "value": -28.9},
      {"panel": "WV062", "type": "High semitransparent thick clouds", "value": -29.1},
      {"panel": "WV062", "type": "High semitransparent above low or medium clouds", "value": -9.6},
      {"panel": "WV062", "type": "High semitransparent above low or medium clouds", "value": -9.9},
      {"panel": "WV062", "type": "High semitransparent above low or medium clouds", "value": -10.2},
      {"panel": "WV062", "type": "High semitransparent above low or medium clouds", "value": -10.6},
      {"panel": "WV062", "type": "High semitransparent above low or medium clouds", "value": -11.0},
      {"panel": "WV062", "type": "High semitransparent above low or medium clouds", "value": -11.4},
      {"panel": "WV062", "type": "High semitransparent above low or medium clouds", "value": -11.8},
      {"panel": "WV062", "type": "High semitransparent above low or medium clouds", "value": -12.2},
      {"panel": "WV062", "type": "High semitransparent above low or medium clouds", "value": -12.6},
      {"panel": "WV062", "type": "High semitransparent above low or medium clouds", "value": -13.0},
      {"panel": "WV062", "type": "High semitransparent above low or medium clouds", "value": -13.3},
      {"panel": "WV062", "type": "High semitransparent above low or medium clouds", "value": -14.4},
      {"panel": "WV073", "type": "ALL", "value": -28.4},
      {"panel": "WV073", "type": "ALL", "value": -28.7},
      {"panel": "WV073", "type": "ALL", "value": -29.0},
      {"panel": "WV073", "type": "ALL", "value": -29.3},
      {"panel": "WV073", "type": "ALL", "value": -29.6},
      {"panel": "WV073", "type": "ALL", "value": -29.9},
      {"panel": "WV073", "type": "ALL", "value": -30.2},
      {"panel": "WV073", "type": "ALL", "value": -30.5},
      {"panel": "WV073", "type": "ALL", "value": -30.8},
      {"panel": "WV073", "type": "ALL", "value": -31.1},
      {"panel": "WV073", "type": "ALL", "value": -31.4},
      {"panel": "WV073", "type": "ALL", "value": -31.7},
      {"panel": "WV073", "type": "ALL", "value": -32.0},
      {"panel": "WV073", "type": "ALL", "value": -32.3},
      {"panel": "WV073", "type": "ALL", "value": -32.6},
      {"panel": "WV073", "type": "ALL", "value": -32.9},
      {"panel": "WV073", "type": "ALL", "value": -33.2},
      {"panel": "WV073", "type": "ALL", "value": -33.5},
      {"panel": "WV073", "type": "ALL", "value": -33.8},
      {"panel": "WV073", "type": "ALL", "value": -34.1},
      {"panel": "WV073", "type": "ALL", "value": -34.4},
      {"panel": "WV073", "type": "ALL", "value": -34.7},
      {"panel": "WV073", "type": "ALL", "value": -35.0},
      {"panel": "WV073", "type": "ALL", "value": -35.3},
      {"panel": "WV073", "type": "ALL", "value": -35.6},
      {"panel": "WV073", "type": "ALL", "value": -35.9},
      {"panel": "WV073", "type": "ALL", "value": -36.2},
      {"panel": "WV073", "type": "ALL", "value": -36.5},
      {"panel": "WV073", "type": "ALL", "value": -36.8},
      {"panel": "WV073", "type": "ALL", "value": -37.1},
      {"panel": "WV073", "type": "ALL", "value": -37.4},
      {"panel": "WV073", "type": "ALL", "value": -37.7},
      {"panel": "WV073", "type": "ALL", "value": -38.0},
      {"panel": "WV073", "type": "ALL", "value": -38.3},
      {"panel": "WV073", "type": "ALL", "value": -38.6},
      {"panel": "WV073", "type": "ALL", "value": -38.9},
      {"panel": "WV073", "type": "ALL", "value": -39.2},
      {"panel": "WV073", "type": "ALL", "value": -39.5},
      {"panel": "WV073", "type": "ALL", "value": -39.8},
      {"panel": "WV073", "type": "ALL", "value": -40.1},
      {"panel": "WV073", "type": "ALL", "value": -40.4},
      {"panel": "WV073", "type": "ALL", "value": -40.7},
      {"panel": "WV073", "type": "ALL", "value": -41.0},
      {"panel": "WV073", "type": "ALL", "value": -41.3},
      {"panel": "WV073", "type": "ALL", "value": -41.6},
      {"panel": "WV073", "type": "ALL", "value": -41.9},
      {"panel": "WV073", "type": "ALL", "value": -42.2},
      {"panel": "WV073", "type": "ALL", "value": -42.5},
      {"panel": "WV073", "type": "ALL", "value": -42.8},
      {"panel": "WV073", "type": "ALL", "value": -43.1},
      {"panel": "WV073", "type": "ALL", "value": -43.4},
      {"panel": "WV073", "type": "ALL", "value": -43.7},
      {"panel": "WV073", "type": "ALL", "value": -44.0},
      {"panel": "WV073", "type": "ALL", "value": -44.3},
      {"panel": "WV073", "type": "ALL", "value": -44.6},
      {"panel": "WV073", "type": "ALL", "value": -44.9},
      {"panel": "WV073", "type": "ALL", "value": -45.2},
      {"panel": "WV073", "type": "ALL", "value": -45.5},
      {"panel": "WV073", "type": "ALL", "value": -45.8},
      {"panel": "WV073", "type": "ALL", "value": -46.1},
      {"panel": "WV073", "type": "ALL", "value": -46.4},
      {"panel": "WV073", "type": "ALL", "value": -46.7},
      {"panel": "WV073", "type": "ALL", "value": -47.0},
      {"panel": "WV073", "type": "ALL", "value": -47.3},
      {"panel": "WV073", "type": "ALL", "value": -47.6},
      {"panel": "WV073", "type": "ALL", "value": -47.9},
      {"panel": "WV073", "type": "ALL", "value": -48.2},
      {"panel": "WV073", "type": "ALL", "value": -48.6},
      {"panel": "WV073", "type": "ALL", "value": -49.0},
      {"panel": "WV073", "type": "ALL", "value": -49.4},
      {"panel": "WV073", "type": "ALL", "value": -49.8},
      {"panel": "WV073", "type": "ALL", "value": -50.2},
      {"panel": "WV073", "type": "ALL", "value": -50.6},
      {"panel": "WV073", "type": "ALL", "value": -51.0},
      {"panel": "WV073", "type": "ALL", "value": -51.3},
      {"panel": "WV073", "type": "ALL", "value": -52.8},
      {"panel": "WV073", "type": "Cloud-free land", "value": 3.2},
      {"panel": "WV073", "type": "Cloud-free land", "value": 3.5},
      {"panel": "WV073", "type": "Cloud-free land", "value": 3.8},
      {"panel": "WV073", "type": "Cloud-free land", "value": 4.1},
      {"panel": "WV073", "type": "Cloud-free land", "value": 4.4},
      {"panel": "WV073", "type": "Cloud-free land", "value": 4.7},
      {"panel": "WV073", "type": "Cloud-free land", "value": 5.0},
      {"panel": "WV073", "type": "Cloud-free land", "value": 5.3},
      {"panel": "WV073", "type": "Cloud-free land", "value": 5.6},
      {"panel": "WV073", "type": "Cloud-free land", "value": 5.9},
      {"panel": "WV073", "type": "Cloud-free land", "value": 6.2},
      {"panel": "WV073", "type": "Cloud-free land", "value": 6.4},
      {"panel": "WV073", "type": "Cloud-free land", "value": -3.2},
      {"panel": "WV073", "type": "Cloud-free land", "value": -3.5},
      {"panel": "WV073", "type": "Cloud-free land", "value": -3.8},
      {"panel": "WV073", "type": "Cloud-free land", "value": -4.1},
      {"panel": "WV073", "type": "Cloud-free land", "value": -4.4},
      {"panel": "WV073", "type": "Cloud-free land", "value": -4.7},
      {"panel": "WV073", "type": "Cloud-free land", "value": -5.0},
      {"panel": "WV073", "type": "Cloud-free land", "value": -5.3},
      {"panel": "WV073", "type": "Cloud-free land", "value": -5.6},
      {"panel": "WV073", "type": "Cloud-free land", "value": -5.9},
      {"panel": "WV073", "type": "Cloud-free land", "value": -6.2},
      {"panel": "WV073", "type": "Cloud-free land", "value": -6.5},
      {"panel": "WV073", "type": "Cloud-free land", "value": -6.8},
      {"panel": "WV073", "type": "Cloud-free land", "value": -7.1},
      {"panel": "WV073", "type": "Cloud-free land", "value": -7.4},
      {"panel": "WV073", "type": "Cloud-free sea", "value": 3.2},
      {"panel": "WV073", "type": "Cloud-free sea", "value": 3.5},
      {"panel": "WV073", "type": "Cloud-free sea", "value": 3.8},
      {"panel": "WV073", "type": "Cloud-free sea", "value": 4.1},
      {"panel": "WV073", "type": "Cloud-free sea", "value": 4.4},
      {"panel": "WV073", "type": "Cloud-free sea", "value": 4.7},
      {"panel": "WV073", "type": "Cloud-free sea", "value": 5.1},
      {"panel": "WV073", "type": "Cloud-free sea", "value": 6.5},
      {"panel": "WV073", "type": "Cloud-free sea", "value": 6.8},
      {"panel": "WV073", "type": "Cloud-free sea", "value": 7.1},
      {"panel": "WV073", "type": "Cloud-free sea", "value": -2.9},
      {"panel": "WV073", "type": "Cloud-free sea", "value": -3.2},
      {"panel": "WV073", "type": "Cloud-free sea", "value": -3.5},
      {"panel": "WV073", "type": "Cloud-free sea", "value": -3.8},
      {"panel": "WV073", "type": "Cloud-free sea", "value": -4.1},
      {"panel": "WV073", "type": "Cloud-free sea", "value": -4.4},
      {"panel": "WV073", "type": "Cloud-free sea", "value": -4.7},
      {"panel": "WV073", "type": "Cloud-free sea", "value": -5.0},
      {"panel": "WV073", "type": "Cloud-free sea", "value": -5.3},
      {"panel": "WV073", "type": "Cloud-free sea", "value": -5.6},
      {"panel": "WV073", "type": "Cloud-free sea", "value": -5.9},
      {"panel": "WV073", "type": "Cloud-free sea", "value": -6.2},
      {"panel": "WV073", "type": "Cloud-free sea", "value": -6.4},
      {"panel": "WV073", "type": "Snow over land", "value": 2.8},
      {"panel": "WV073", "type": "Snow over land", "value": 3.0},
      {"panel": "WV073", "type": "Snow over land", "value": 3.2},
      {"panel": "WV073", "type": "Snow over land", "value": 3.5},
      {"panel": "WV073", "type": "Snow over land", "value": 4.15},
      {"panel": "WV073", "type": "Snow over land", "value": -3.0},
      {"panel": "WV073", "type": "Snow over land", "value": -3.2},
      {"panel": "WV073", "type": "Snow over land", "value": -3.5},
      {"panel": "WV073", "type": "Snow over land", "value": -3.8},
      {"panel": "WV073", "type": "Snow over land", "value": -4.1},
      {"panel": "WV073", "type": "Snow over land", "value": -4.5},
      {"panel": "WV073", "type": "Snow over land", "value": -4.9},
      {"panel": "WV073", "type": "Snow over land", "value": -5.2},
      {"panel": "WV073", "type": "Snow over land", "value": -5.5},
      {"panel": "WV073", "type": "Snow over land", "value": -5.8},
      {"panel": "WV073", "type": "Very low clouds", "value": 2.8},
      {"panel": "WV073", "type": "Very low clouds", "value": 3.1},
      {"panel": "WV073", "type": "Very low clouds", "value": 3.4},
      {"panel": "WV073", "type": "Very low clouds", "value": 3.7},
      {"panel": "WV073", "type": "Very low clouds", "value": 4.0},
      {"panel": "WV073", "type": "Very low clouds", "value": 4.3},
      {"panel": "WV073", "type": "Very low clouds", "value": 4.6},
      {"panel": "WV073", "type": "Very low clouds", "value": 4.9},
      {"panel": "WV073", "type": "Very low clouds", "value": 5.2},
      {"panel": "WV073", "type": "Very low clouds", "value": 5.5},
      {"panel": "WV073", "type": "Very low clouds", "value": 5.8},
      {"panel": "WV073", "type": "Very low clouds", "value": 6.1},
      {"panel": "WV073", "type": "Very low clouds", "value": 6.4},
      {"panel": "WV073", "type": "Very low clouds", "value": 8.3},
      {"panel": "WV073", "type": "Very low clouds", "value": 8.9},
      {"panel": "WV073", "type": "Very low clouds", "value": -3.3},
      {"panel": "WV073", "type": "Very low clouds", "value": -3.6},
      {"panel": "WV073", "type": "Very low clouds", "value": -3.9},
      {"panel": "WV073", "type": "Very low clouds", "value": -4.2},
      {"panel": "WV073", "type": "Very low clouds", "value": -4.5},
      {"panel": "WV073", "type": "Very low clouds", "value": -4.8},
      {"panel": "WV073", "type": "Very low clouds", "value": -5.1},
      {"panel": "WV073", "type": "Very low clouds", "value": -5.4},
      {"panel": "WV073", "type": "Very low clouds", "value": -5.7},
      {"panel": "WV073", "type": "Very low clouds", "value": -6.0},
      {"panel": "WV073", "type": "Very low clouds", "value": -6.3},
      {"panel": "WV073", "type": "Very low clouds", "value": -6.6},
      {"panel": "WV073", "type": "Very low clouds", "value": -6.8},
      {"panel": "WV073", "type": "Low clouds", "value": 3.4},
      {"panel": "WV073", "type": "Low clouds", "value": 3.7},
      {"panel": "WV073", "type": "Low clouds", "value": 4.0},
      {"panel": "WV073", "type": "Low clouds", "value": 4.3},
      {"panel": "WV073", "type": "Low clouds", "value": 4.6},
      {"panel": "WV073", "type": "Low clouds", "value": 4.9},
      {"panel": "WV073", "type": "Low clouds", "value": 5.2},
      {"panel": "WV073", "type": "Low clouds", "value": 5.5},
      {"panel": "WV073", "type": "Low clouds", "value": 5.8},
      {"panel": "WV073", "type": "Low clouds", "value": 6.1},
      {"panel": "WV073", "type": "Low clouds", "value": 6.4},
      {"panel": "WV073", "type": "Low clouds", "value": 6.7},
      {"panel": "WV073", "type": "Low clouds", "value": -4.4},
      {"panel": "WV073", "type": "Low clouds", "value": -4.7},
      {"panel": "WV073", "type": "Low clouds", "value": -5.0},
      {"panel": "WV073", "type": "Low clouds", "value": -5.3},
      {"panel": "WV073", "type": "Low clouds", "value": -5.6},
      {"panel": "WV073", "type": "Low clouds", "value": -5.9},
      {"panel": "WV073", "type": "Low clouds", "value": -6.2},
      {"panel": "WV073", "type": "Low clouds", "value": -6.5},
      {"panel": "WV073", "type": "Low clouds", "value": -6.8},
      {"panel": "WV073", "type": "Low clouds", "value": -7.1},
      {"panel": "WV073", "type": "Low clouds", "value": -7.4},
      {"panel": "WV073", "type": "Low clouds", "value": -7.7},
      {"panel": "WV073", "type": "Low clouds", "value": -8.0},
      {"panel": "WV073", "type": "Low clouds", "value": -8.3},
      {"panel": "WV073", "type": "Low clouds", "value": -9.0},
      {"panel": "WV073", "type": "Low clouds", "value": -10.7},
      {"panel": "WV073", "type": "Low clouds", "value": -15.0},
      {"panel": "WV073", "type": "Mid-level clouds", "value": 3.6},
      {"panel": "WV073", "type": "Mid-level clouds", "value": 3.9},
      {"panel": "WV073", "type": "Mid-level clouds", "value": 4.2},
      {"panel": "WV073", "type": "Mid-level clouds", "value": 4.5},
      {"panel": "WV073", "type": "Mid-level clouds", "value": 4.8},
      {"panel": "WV073", "type": "Mid-level clouds", "value": 5.0},
      {"panel": "WV073", "type": "Mid-level clouds", "value": 7.3},
      {"panel": "WV073", "type": "Mid-level clouds", "value": -9.2},
      {"panel": "WV073", "type": "Mid-level clouds", "value": -9.5},
      {"panel": "WV073", "type": "Mid-level clouds", "value": -9.8},
      {"panel": "WV073", "type": "Mid-level clouds", "value": -10.1},
      {"panel": "WV073", "type": "Mid-level clouds", "value": -10.4},
      {"panel": "WV073", "type": "Mid-level clouds", "value": -10.7},
      {"panel": "WV073", "type": "Mid-level clouds", "value": -11.0},
      {"panel": "WV073", "type": "Mid-level clouds", "value": -11.3},
      {"panel": "WV073", "type": "Mid-level clouds", "value": -11.6},
      {"panel": "WV073", "type": "Mid-level clouds", "value": -11.9},
      {"panel": "WV073", "type": "Mid-level clouds", "value": -12.2},
      {"panel": "WV073", "type": "Mid-level clouds", "value": -12.5},
      {"panel": "WV073", "type": "Mid-level clouds", "value": -12.8},
      {"panel": "WV073", "type": "Mid-level clouds", "value": -13.1},
      {"panel": "WV073", "type": "Mid-level clouds", "value": -13.4},
      {"panel": "WV073", "type": "Mid-level clouds", "value": -13.7},
      {"panel": "WV073", "type": "Mid-level clouds", "value": -14.3},
      {"panel": "WV073", "type": "Mid-level clouds", "value": -14.9},
      {"panel": "WV073", "type": "Mid-level clouds", "value": -15.7},
      {"panel": "WV073", "type": "Mid-level clouds", "value": -17.2},
      {"panel": "WV073", "type": "High opaque clouds", "value": -31.9},
      {"panel": "WV073", "type": "High opaque clouds", "value": -32.4},
      {"panel": "WV073", "type": "High opaque clouds", "value": -32.9},
      {"panel": "WV073", "type": "High opaque clouds", "value": -33.5},
      {"panel": "WV073", "type": "High opaque clouds", "value": -34.2},
      {"panel": "WV073", "type": "Very high opaque clouds", "value": -12.7},
      {"panel": "WV073", "type": "Very high opaque clouds", "value": -37.9},
      {"panel": "WV073", "type": "Very high opaque clouds", "value": -38.3},
      {"panel": "WV073", "type": "Very high opaque clouds", "value": -38.8},
      {"panel": "WV073", "type": "Very high opaque clouds", "value": -39.3},
      {"panel": "WV073", "type": "Very high opaque clouds", "value": -39.8},
      {"panel": "WV073", "type": "Very high opaque clouds", "value": -40.1},
      {"panel": "WV073", "type": "Very high opaque clouds", "value": -41.8},
      {"panel": "WV073", "type": "Very high opaque clouds", "value": -42.3},
      {"panel": "WV073", "type": "Very high opaque clouds", "value": -43.5},
      {"panel": "WV073", "type": "Very high opaque clouds", "value": -44.8},
      {"panel": "WV073", "type": "Very high opaque clouds", "value": -46.6},
      {"panel": "WV073", "type": "Very high opaque clouds", "value": -47.2},
      {"panel": "WV073", "type": "Fractional clouds", "value": 3.9},
      {"panel": "WV073", "type": "Fractional clouds", "value": 4.2},
      {"panel": "WV073", "type": "Fractional clouds", "value": 4.5},
      {"panel": "WV073", "type": "Fractional clouds", "value": 4.8},
      {"panel": "WV073", "type": "Fractional clouds", "value": 5.1},
      {"panel": "WV073", "type": "Fractional clouds", "value": 5.4},
      {"panel": "WV073", "type": "Fractional clouds", "value": 5.7},
      {"panel": "WV073", "type": "Fractional clouds", "value": 6.0},
      {"panel": "WV073", "type": "Fractional clouds", "value": 6.3},
      {"panel": "WV073", "type": "Fractional clouds", "value": 6.7},
      {"panel": "WV073", "type": "Fractional clouds", "value": -5.9},
      {"panel": "WV073", "type": "Fractional clouds", "value": -6.2},
      {"panel": "WV073", "type": "Fractional clouds", "value": -6.5},
      {"panel": "WV073", "type": "Fractional clouds", "value": -6.8},
      {"panel": "WV073", "type": "Fractional clouds", "value": -7.1},
      {"panel": "WV073", "type": "Fractional clouds", "value": -7.4},
      {"panel": "WV073", "type": "Fractional clouds", "value": -7.7},
      {"panel": "WV073", "type": "Fractional clouds", "value": -8.0},
      {"panel": "WV073", "type": "Fractional clouds", "value": -8.3},
      {"panel": "WV073", "type": "Fractional clouds", "value": -8.6},
      {"panel": "WV073", "type": "Fractional clouds", "value": -8.9},
      {"panel": "WV073", "type": "Fractional clouds", "value": -9.2},
      {"panel": "WV073", "type": "Fractional clouds", "value": -9.5},
      {"panel": "WV073", "type": "Fractional clouds", "value": -10.0},
      {"panel": "WV073", "type": "Fractional clouds", "value": -10.5},
      {"panel": "WV073", "type": "Fractional clouds", "value": -11.0},
      {"panel": "WV073", "type": "Fractional clouds", "value": -11.5},
      {"panel": "WV073", "type": "High semitransparent thin clouds", "value": -9.2},
      {"panel": "WV073", "type": "High semitransparent thin clouds", "value": -9.5},
      {"panel": "WV073", "type": "High semitransparent thin clouds", "value": -9.8},
      {"panel": "WV073", "type": "High semitransparent thin clouds", "value": -10.1},
      {"panel": "WV073", "type": "High semitransparent thin clouds", "value": -10.4},
      {"panel": "WV073", "type": "High semitransparent thin clouds", "value": -10.7},
      {"panel": "WV073", "type": "High semitransparent thin clouds", "value": -11.0},
      {"panel": "WV073", "type": "High semitransparent thin clouds", "value": -12.2},
      {"panel": "WV073", "type": "High semitransparent moderately thick clouds", "value": 2.8},
      {"panel": "WV073", "type": "High semitransparent moderately thick clouds", "value": 3.1},
      {"panel": "WV073", "type": "High semitransparent moderately thick clouds", "value": 3.5},
      {"panel": "WV073", "type": "High semitransparent moderately thick clouds", "value": 4.0},
      {"panel": "WV073", "type": "High semitransparent moderately thick clouds", "value": 5.3},
      {"panel": "WV073", "type": "High semitransparent moderately thick clouds", "value": -14.7},
      {"panel": "WV073", "type": "High semitransparent moderately thick clouds", "value": -15.0},
      {"panel": "WV073", "type": "High semitransparent moderately thick clouds", "value": -15.3},
      {"panel": "WV073", "type": "High semitransparent moderately thick clouds", "value": -15.6},
      {"panel": "WV073", "type": "High semitransparent moderately thick clouds", "value": -15.9},
      {"panel": "WV073", "type": "High semitransparent moderately thick clouds", "value": -16.2},
      {"panel": "WV073", "type": "High semitransparent moderately thick clouds", "value": -16.5},
      {"panel": "WV073", "type": "High semitransparent moderately thick clouds", "value": -16.8},
      {"panel": "WV073", "type": "High semitransparent moderately thick clouds", "value": -17.1},
      {"panel": "WV073", "type": "High semitransparent moderately thick clouds", "value": -17.4},
      {"panel": "WV073", "type": "High semitransparent moderately thick clouds", "value": -17.7},
      {"panel": "WV073", "type": "High semitransparent moderately thick clouds", "value": -18.0},
      {"panel": "WV073", "type": "High semitransparent moderately thick clouds", "value": -18.6},
      {"panel": "WV073", "type": "High semitransparent moderately thick clouds", "value": -19.0},
      {"panel": "WV073", "type": "High semitransparent moderately thick clouds", "value": -19.4},
      {"panel": "WV073", "type": "High semitransparent moderately thick clouds", "value": -20.2},
      {"panel": "WV073", "type": "High semitransparent thick clouds", "value": -38.1},
      {"panel": "WV073", "type": "High semitransparent thick clouds", "value": -38.4},
      {"panel": "WV073", "type": "High semitransparent thick clouds", "value": -38.7},
      {"panel": "WV073", "type": "High semitransparent thick clouds", "value": -39.0},
      {"panel": "WV073", "type": "High semitransparent thick clouds", "value": -39.3},
      {"panel": "WV073", "type": "High semitransparent thick clouds", "value": -39.6},
      {"panel": "WV073", "type": "High semitransparent thick clouds", "value": -39.9},
      {"panel": "WV073", "type": "High semitransparent thick clouds", "value": -40.2},
      {"panel": "WV073", "type": "High semitransparent thick clouds", "value": -40.5},
      {"panel": "WV073", "type": "High semitransparent thick clouds", "value": -40.8},
      {"panel": "WV073", "type": "High semitransparent thick clouds", "value": -41.1},
      {"panel": "WV073", "type": "High semitransparent thick clouds", "value": -41.4},
      {"panel": "WV073", "type": "High semitransparent thick clouds", "value": -41.7},
      {"panel": "WV073", "type": "High semitransparent thick clouds", "value": -42.0},
      {"panel": "WV073", "type": "High semitransparent thick clouds", "value": -42.3},
      {"panel": "WV073", "type": "High semitransparent thick clouds", "value": -42.6},
      {"panel": "WV073", "type": "High semitransparent thick clouds", "value": -42.9},
      {"panel": "WV073", "type": "High semitransparent thick clouds", "value": -43.2},
      {"panel": "WV073", "type": "High semitransparent thick clouds", "value": -43.5},
      {"panel": "WV073", "type": "High semitransparent thick clouds", "value": -43.8},
      {"panel": "WV073", "type": "High semitransparent thick clouds", "value": -44.1},
      {"panel": "WV073", "type": "High semitransparent thick clouds", "value": -44.4},
      {"panel": "WV073", "type": "High semitransparent thick clouds", "value": -44.7},
      {"panel": "WV073", "type": "High semitransparent thick clouds", "value": -45.0},
      {"panel": "WV073", "type": "High semitransparent thick clouds", "value": -45.3},
      {"panel": "WV073", "type": "High semitransparent thick clouds", "value": -45.6},
      {"panel": "WV073", "type": "High semitransparent thick clouds", "value": -45.9},
      {"panel": "WV073", "type": "High semitransparent thick clouds", "value": -46.2},
      {"panel": "WV073", "type": "High semitransparent thick clouds", "value": -46.5},
      {"panel": "WV073", "type": "High semitransparent thick clouds", "value": -46.8},
      {"panel": "WV073", "type": "High semitransparent thick clouds", "value": -47.1},
      {"panel": "WV073", "type": "High semitransparent thick clouds", "value": -47.4},
      {"panel": "WV073", "type": "High semitransparent thick clouds", "value": -47.7},
      {"panel": "WV073", "type": "High semitransparent thick clouds", "value": -48.0},
      {"panel": "WV073", "type": "High semitransparent thick clouds", "value": -48.3},
      {"panel": "WV073", "type": "High semitransparent thick clouds", "value": -48.6},
      {"panel": "WV073", "type": "High semitransparent thick clouds", "value": -49.0},
      {"panel": "WV073", "type": "High semitransparent thick clouds", "value": -49.4},
      {"panel": "WV073", "type": "High semitransparent thick clouds", "value": -49.8},
      {"panel": "WV073", "type": "High semitransparent thick clouds", "value": -50.2},
      {"panel": "WV073", "type": "High semitransparent thick clouds", "value": -50.6},
      {"panel": "WV073", "type": "High semitransparent thick clouds", "value": -51.2},
      {"panel": "WV073", "type": "High semitransparent thick clouds", "value": -52.8},
      {"panel": "WV073", "type": "High semitransparent above low or medium clouds", "value": -17.4}
    ]
  },
  "spacing": 62,
  "bounds": "flush",
  "vconcat": [
    {
      "title": "Channel WV062",
      "width": 1108,
      "height": 553,
      "layer": [
        {
          "data": {"name": "boxes"},
          "transform": [{"filter": "datum.panel == 'WV062'"}],
          "mark": {"type": "rule", "color": "#808080", "strokeWidth": 2},
          "encoding": {
            "x": {"field": "type", "type": "nominal", "title": null,
                  "scale": {"domain": ["ALL", "Cloud-free land", "Cloud-free sea", "Snow over land", "Very low clouds", "Low clouds", "Mid-level clouds", "High opaque clouds", "Very high opaque clouds", "Fractional clouds", "High semitransparent thin clouds", "High semitransparent moderately thick clouds", "High semitransparent thick clouds", "High semitransparent above low or medium clouds"], "paddingInner": 0, "paddingOuter": 0},
                  "axis": {"labels": false, "ticks": true, "grid": false}},
            "y": {"field": "lo", "type": "quantitative", "title": "[K]",
                  "scale": {"domain": [-56.2, 13.7], "nice": false, "zero": false},
                  "axis": {"values": [-50, -40, -30, -20, -10, 0, 10], "format": "d", "grid": true, "gridColor": "#cccccc", "gridDash": [3, 2], "gridWidth": 0.8, "titlePadding": 9}},
            "y2": {"field": "hi"}
          }
        },
        {
          "data": {"name": "boxes"},
          "transform": [{"filter": "datum.panel == 'WV062'"}],
          "mark": {"type": "tick", "color": "#808080", "thickness": 2, "size": 32},
          "encoding": {
            "x": {"field": "type", "type": "nominal", "title": null},
            "y": {"field": "lo", "type": "quantitative", "title": "[K]"}
          }
        },
        {
          "data": {"name": "boxes"},
          "transform": [{"filter": "datum.panel == 'WV062'"}],
          "mark": {"type": "tick", "color": "#808080", "thickness": 2, "size": 32},
          "encoding": {
            "x": {"field": "type", "type": "nominal", "title": null},
            "y": {"field": "hi", "type": "quantitative", "title": "[K]"}
          }
        },
        {
          "data": {"name": "boxes"},
          "transform": [{"filter": "datum.panel == 'WV062'"}],
          "mark": {"type": "bar", "fill": "#d3d3d3", "stroke": "#808080", "strokeWidth": 2, "size": 63},
          "encoding": {
            "x": {"field": "type", "type": "nominal", "title": null},
            "y": {"field": "q1", "type": "quantitative", "title": "[K]"},
            "y2": {"field": "q3"}
          }
        },
        {
          "data": {"name": "boxes"},
          "transform": [{"filter": "datum.panel == 'WV062'"}],
          "mark": {"type": "tick", "color": "#808080", "thickness": 2, "size": 63},
          "encoding": {
            "x": {"field": "type", "type": "nominal", "title": null},
            "y": {"field": "med", "type": "quantitative", "title": "[K]"}
          }
        },
        {
          "data": {"name": "fliers"},
          "transform": [{"filter": "datum.panel == 'WV062'"}],
          "mark": {"type": "point", "shape": "circle", "filled": false, "stroke": "#808080", "strokeOpacity": 0.7, "strokeWidth": 1.5, "size": 30},
          "encoding": {
            "x": {"field": "type", "type": "nominal", "title": null},
            "y": {"field": "value", "type": "quantitative", "title": "[K]"}
          }
        },
        {
          "data": {"values": [{}]},
          "mark": {"type": "rule", "color": "black", "strokeWidth": 3.2, "strokeDash": [14, 7]},
          "encoding": {"y": {"datum": 0, "type": "quantitative"}}
        },
        {
          "data": {"values": [{}]},
          "mark": {"type": "rule", "color": "black", "strokeWidth": 3.2, "strokeDash": [14, 7]},
          "encoding": {"x": {"datum": "ALL", "type": "nominal", "bandPosition": 1}}
        }
      ]
    },
    {
      "title": "Channel WV073",
      "width": 1108,
      "height": 553,
      "layer": [
        {
          "data": {"name": "boxes"},
          "transform": [{"filter": "datum.panel == 'WV073'"}],
          "mark": {"type": "rule", "color": "#808080", "strokeWidth": 2},
          "encoding": {
            "x": {"field": "type", "type": "nominal", "title": "Cloud Type",
                  "scale": {"domain": ["ALL", "Cloud-free land", "Cloud-free sea", "Snow over land", "Very low clouds", "Low clouds", "Mid-level clouds", "High opaque clouds", "Very high opaque clouds", "Fractional clouds", "High semitransparent thin clouds", "High semitransparent moderately thick clouds", "High semitransparent thick clouds", "High semitransparent above low or medium clouds"], "paddingInner": 0, "paddingOuter": 0},
                  "axis": {"labelAngle": -42, "labelAlign": "right", "labelBaseline": "middle", "labelFontSize": 27, "labelPadding": 7, "labelOffset": -12, "labelLimit": 0, "grid": false, "titleY": 491, "titleBaseline": "alphabetic"}},
            "y": {"field": "lo", "type": "quantitative", "title": "[K]",
                  "scale": {"domain": [-56.2, 13.7], "nice": false, "zero": false},
                  "axis": {"values": [-50, -40, -30, -20, -10, 0, 10], "format": "d", "grid": true, "gridColor": "#cccccc", "gridDash": [3, 2], "gridWidth": 0.8, "titlePadding": 9}},
            "y2": {"field": "hi"}
          }
        },
        {
          "data": {"name": "boxes"},
          "transform": [{"filter": "datum.panel == 'WV073'"}],
          "mark": {"type": "tick", "color": "#808080", "thickness": 2, "size": 32},
          "encoding": {
            "x": {"field": "type", "type": "nominal", "title": "Cloud Type"},
            "y": {"field": "lo", "type": "quantitative", "title": "[K]"}
          }
        },
        {
          "data": {"name": "boxes"},
          "transform": [{"filter": "datum.panel == 'WV073'"}],
          "mark": {"type": "tick", "color": "#808080", "thickness": 2, "size": 32},
          "encoding": {
            "x": {"field": "type", "type": "nominal", "title": "Cloud Type"},
            "y": {"field": "hi", "type": "quantitative", "title": "[K]"}
          }
        },
        {
          "data": {"name": "boxes"},
          "transform": [{"filter": "datum.panel == 'WV073'"}],
          "mark": {"type": "bar", "fill": "#d3d3d3", "stroke": "#808080", "strokeWidth": 2, "size": 63},
          "encoding": {
            "x": {"field": "type", "type": "nominal", "title": "Cloud Type"},
            "y": {"field": "q1", "type": "quantitative", "title": "[K]"},
            "y2": {"field": "q3"}
          }
        },
        {
          "data": {"name": "boxes"},
          "transform": [{"filter": "datum.panel == 'WV073'"}],
          "mark": {"type": "tick", "color": "#808080", "thickness": 2, "size": 63},
          "encoding": {
            "x": {"field": "type", "type": "nominal", "title": "Cloud Type"},
            "y": {"field": "med", "type": "quantitative", "title": "[K]"}
          }
        },
        {
          "data": {"name": "fliers"},
          "transform": [{"filter": "datum.panel == 'WV073'"}],
          "mark": {"type": "point", "shape": "circle", "filled": false, "stroke": "#808080", "strokeOpacity": 0.7, "strokeWidth": 1.5, "size": 30},
          "encoding": {
            "x": {"field": "type", "type": "nominal", "title": "Cloud Type"},
            "y": {"field": "value", "type": "quantitative", "title": "[K]"}
          }
        },
        {
          "data": {"values": [{}]},
          "mark": {"type": "rule", "color": "black", "strokeWidth": 3.2, "strokeDash": [14, 7]},
          "encoding": {"y": {"datum": 0, "type": "quantitative"}}
        },
        {
          "data": {"values": [{}]},
          "mark": {"type": "rule", "color": "black", "strokeWidth": 3.2, "strokeDash": [14, 7]},
          "encoding": {"x": {"datum": "ALL", "type": "nominal", "bandPosition": 1}}
        }
      ]
    }
  ]
}
